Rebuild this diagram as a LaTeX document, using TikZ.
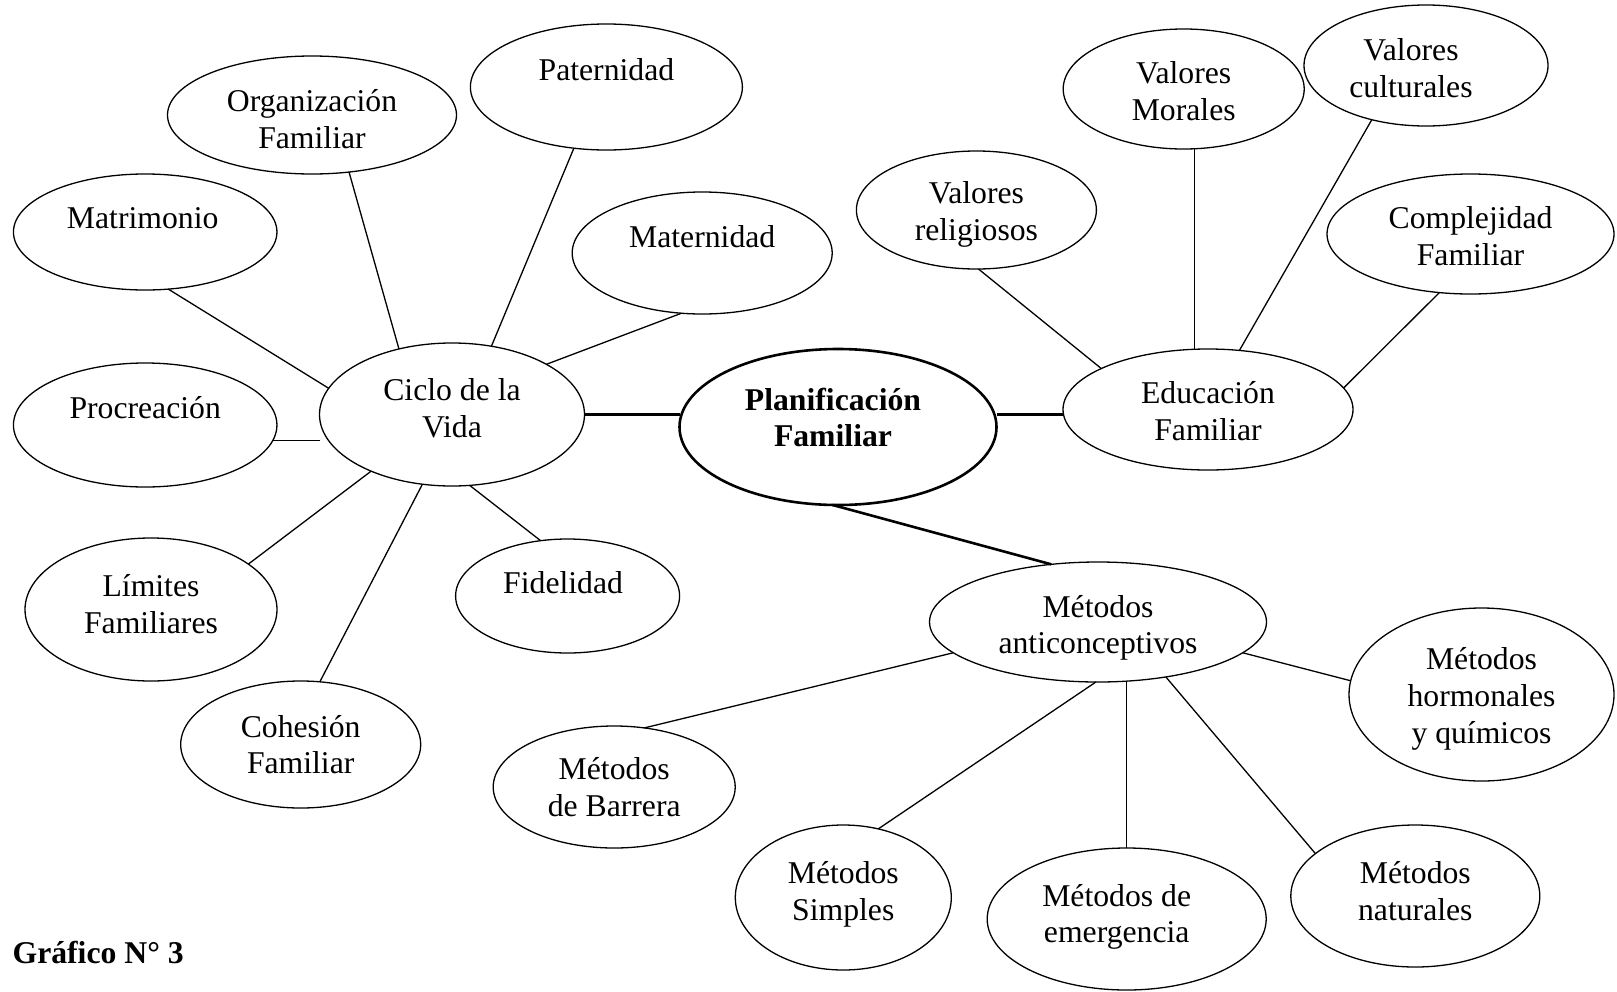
\documentclass[tikz,border=0pt]{standalone}
\usepackage{fontspec}
\setmainfont{Liberation Serif}
\usetikzlibrary{shapes.geometric}

\begin{document}
\begin{tikzpicture}[x=1pt,y=-1pt]
	\tikzstyle{oval} = [ellipse, draw=black, line width=1.3pt, inner sep=0pt, outer sep=0pt]
	\tikzstyle{core} = [oval, line width=2.6pt]
	\tikzstyle{every label} = [align=center, inner sep=0pt, font=\fontsize{31.7}{36.6}\selectfont]
	\tikzstyle{link} = [line width=1.3pt]
	\tikzstyle{trunk} = [line width=2.6pt]

	\useasboundingbox (0,0) rectangle (1617,991);

	\node [core, minimum width=317pt, minimum height=156pt, label={[xshift=-5pt, yshift=9.5pt, font=\fontsize{31.7}{36.6}\selectfont\bfseries]center:Planificación\\Familiar}] (pf) at (838,427) {};

	\node [oval, minimum width=265pt, minimum height=143pt, label={[yshift=6pt]center:Ciclo de la\\Vida}] (cic) at (452,414.5) {};
	\draw [trunk] (cic.east) -- (cic.east -| pf.west);

	\node [oval, minimum width=290pt, minimum height=121pt, label={[yshift=-1.5pt]center:Educación\\Familiar}] (ef) at (1208,409.5) {};
	\draw [trunk] (cic.east -| pf.east) -- (cic.east -| ef.west);

	\node [oval, minimum width=337pt, minimum height=120pt, label={[yshift=-6pt]center:Métodos\\anticonceptivos}] (ma) at (1098,622) {};
	\draw [trunk] (pf.266) -- (ma.129);

	\node [oval, minimum width=272pt, minimum height=126pt, label={[yshift=17.5pt]center:Paternidad}] (pat) at (606.4,87) {};
	\draw [link] (pat.242) -- (cic.60);

	\node [oval, minimum width=289pt, minimum height=118pt, label={[yshift=-4pt]center:Organización\\Familiar}] (org) at (312,115) {};
	\draw [link] (org.303) -- (cic.129);

	\node [oval, minimum width=263.5pt, minimum height=116pt, label={[xshift=-2.5pt, yshift=13.5pt]center:Matrimonio}] (mat) at (145.2,232) {};
	\draw [link] (mat.292) -- (cic.168);

	\node [oval, minimum width=260pt, minimum height=122pt, label={[yshift=16.5pt]center:Maternidad}] (mter) at (702.2,253) {};
	\draw [link] (mter.251) -- (cic.28);

	\node [oval, minimum width=263.5pt, minimum height=124pt, label={[yshift=17.5pt]center:Procreación}] (pro) at (145.2,425) {};
	\draw [link] (pro.353) -- (pro.353 -| cic.west);

	\node [oval, minimum width=252pt, minimum height=143pt, label={[yshift=5.5pt]center:Límites\\Familiares}] (lim) at (151,609.5) {};
	\draw [link] (lim.25) -- (cic.215);

	\node [oval, minimum width=224pt, minimum height=114pt, label={[xshift=-4.5pt, yshift=13.5pt]center:Fidelidad}] (fid) at (567.6,596) {};
	\draw [link] (fid.116) -- (cic.284);

	\node [oval, minimum width=240pt, minimum height=127pt, label={center:Cohesión\\Familiar}] (coh) at (300.7,744.5) {};
	\draw [link] (coh.73) -- (cic.247);

	\node [oval, minimum width=240pt, minimum height=118pt, label={[yshift=-4.3pt]center:Valores\\religiosos}] (vr) at (976.4,210) {};
	\draw [link] (vr.272) -- (ef.159);

	\node [oval, minimum width=241pt, minimum height=120pt, label={[yshift=-2pt]center:Valores\\Morales}] (vm) at (1183.7,89) {};
	\draw [link] (vm.280) -- (vm.280 |- ef.north);

	\node [oval, minimum width=244pt, minimum height=121pt, label={[xshift=-15pt, yshift=-2.5pt]center:Valores\\culturales}] (vc) at (1426,65.5) {};
	\draw [link] (vc.225) -- (ef.62);

	\node [oval, minimum width=287pt, minimum height=120pt, label={[yshift=-2pt]center:Complejidad\\Familiar}] (cf) at (1470.5,234) {};
	\draw [link] (cf.242) -- (ef.9);

	\node [oval, minimum width=265pt, minimum height=173pt, label={[yshift=-4.4pt]center:Métodos\\hormonales\\y químicos}] (mh) at (1481.5,694.5) {};
	\draw [link] (ma.348) -- (mh.174);

	\node [oval, minimum width=242pt, minimum height=122pt, label={center:Métodos\\de Barrera}] (mb) at (614.2,787) {};
	\draw [link] (ma.192) -- (mb.63);

	\node [oval, minimum width=216pt, minimum height=145pt, label={[yshift=3.2pt]center:Métodos\\Simples}] (ms) at (843.3,897.5) {};
	\draw [link] (ma.268) -- (ms.63);

	\node [oval, minimum width=279pt, minimum height=142pt, label={[xshift=-10pt, yshift=2.2pt]center:Métodos de\\emergencia}] (me) at (1126.7,919) {};
	\draw [link] (me.north) -- (me.north |- ma.south);

	\node [oval, minimum width=249pt, minimum height=142pt, label={[yshift=5pt]center:Métodos\\naturales}] (mn) at (1415.3,896) {};
	\draw [link] (ma.321) -- (mn.157);

	\node [anchor=base west, inner sep=0pt, font=\fontsize{31.7}{36.6}\selectfont\bfseries] (graf) at (12.4,963) {Gráfico N° 3};
\end{tikzpicture}
\end{document}
